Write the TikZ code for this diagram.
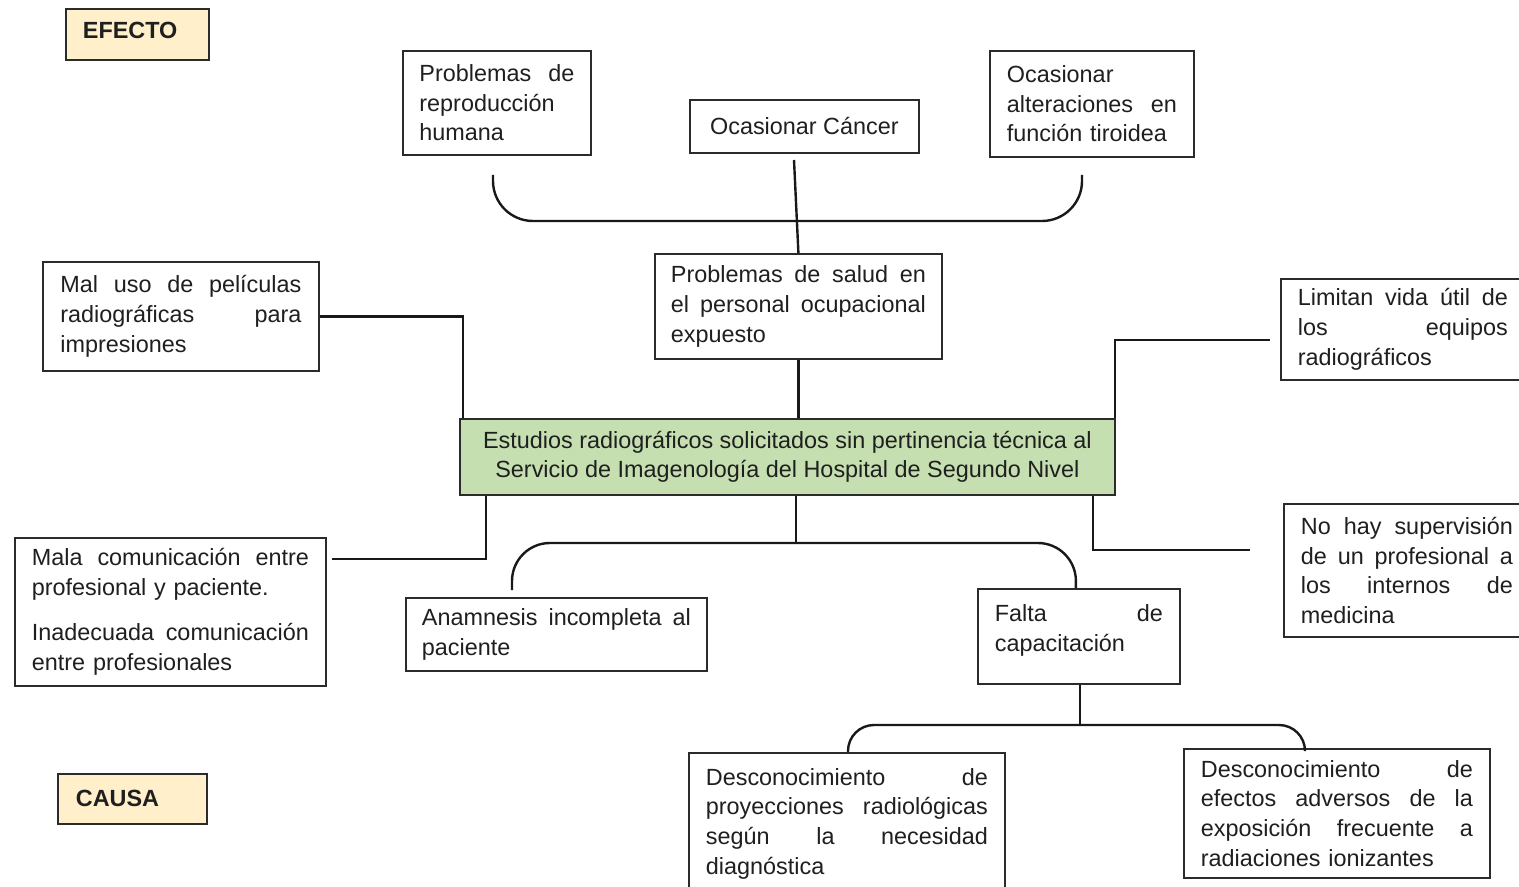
\documentclass[tikz,border=0pt]{standalone}
\usepackage{fontspec}
\setmainfont{Liberation Sans}
\usetikzlibrary{calc}
\newcommand\jl[1]{{\spaceskip=0.278em plus 1fill\relax #1\\}}
\definecolor{efc}{HTML}{FFEFCB}
\definecolor{grn}{HTML}{C5DFB1}
\definecolor{bd}{HTML}{2B2B2B}
\begin{document}
\begin{tikzpicture}[x=0.5pt,y=-0.5pt,
  box/.style={draw=bd, line width=0.9pt, fill=white, anchor=north west, inner sep=0pt,
    text=black!88, font=\fontsize{11.7}{14.8}\selectfont, align=left},
  tag/.style={box, fill=efc, font=\bfseries\fontsize{11.7}{14.8}\selectfont},
  conn/.style={draw=black!90, line width=1.2pt}]

\useasboundingbox (0,0) rectangle (1519,887);

% labels
\node[tag, minimum width=71.5pt, minimum height=25.5pt, text width=54.5pt] (efecto) at (65,8) {EFECTO\\[-11pt]\mbox{}};
\node[tag, minimum width=74.5pt, minimum height=25pt, text width=56.5pt] (causa) at (57,773) {CAUSA};

% effects
\node[box, minimum width=94pt, minimum height=52pt, text width=77.5pt] (prh) at (402,50)
  {\jl{Problemas de}reproducción\\humana};
\node[box, minimum width=114.5pt, minimum height=26.5pt] (cancer) at (689,99) {Ocasionar Cáncer};
\node[box, minimum width=102pt, minimum height=53pt, text width=85pt] (tiro) at (989,50)
  {Ocasionar\\\jl{alteraciones en}función tiroidea};
\node[box, minimum width=143.5pt, minimum height=52.5pt, text width=127.5pt] (salud) at (654,253)
  {\jl{Problemas de salud en}\jl{el personal ocupacional}expuesto};

% central problem
\node[box, fill=grn, minimum width=327.5pt, minimum height=38pt, align=center] (central) at (459,418)
  {Estudios radiográficos solicitados sin pertinencia técnica al\\Servicio de Imagenología del Hospital de Segundo Nivel};

% side boxes
\node[box, minimum width=138pt, minimum height=54.5pt, text width=120.5pt] (maluso) at (42,261)
  {\jl{Mal uso de películas}\jl{radiográficas para}impresiones};
\node[box, minimum width=122pt, minimum height=50.5pt, text width=105pt] (limitan) at (1280,278)
  {\jl{Limitan vida útil de}\jl{los equipos}radiográficos};
\node[box, minimum width=123pt, minimum height=66.5pt, text width=106pt] (nohay) at (1283,503)
  {\jl{No hay supervisión}\jl{de un profesional a}\jl{los internos de}medicina};
\node[box, minimum width=155.5pt, minimum height=74pt, text width=138.5pt] (mala) at (14,537)
  {\jl{Mala comunicación entre}profesional y paciente.\\[8pt]\jl{Inadecuada comunicación}entre profesionales};

% causes
\node[box, minimum width=150.5pt, minimum height=36.5pt, text width=134.5pt] (anam) at (405,597)
  {\jl{Anamnesis incompleta al}paciente};
\node[box, minimum width=101pt, minimum height=47.5pt, text width=84pt] (falta) at (977,588)
  {\jl{Falta de}capacitación\\[-6.5pt]\mbox{}};
\node[box, minimum width=158pt, inner ysep=7.7pt, text width=141pt] (descL) at (688,752)
  {\jl{Desconocimiento de}\jl{proyecciones radiológicas}\jl{según la necesidad}diagnóstica};
\node[box, minimum width=153pt, minimum height=64.5pt, text width=136pt] (descR) at (1183,748)
  {\jl{Desconocimiento de}\jl{efectos adversos de la}\jl{exposición frecuente a}radiaciones ionizantes};

% coordinates for free ends
\coordinate (t1) at (493,175);
\coordinate (t2) at (1082,175);
\coordinate (tm) at (794,221);
\coordinate (c1) at (794,160);
\coordinate (l1) at (1270,340);
\coordinate (n1) at (1250,550);
\coordinate (m1) at (332,559);
\coordinate (bL) at (512,590);
\coordinate (bm) at (796,543);
\coordinate (dL) at (848,752);
\coordinate (dR) at (1305,748);
\coordinate (dm) at (1080,725);

% top brace and stems
\draw[conn, rounded corners=20pt] (t1) |- (tm) -| (t2);
\draw[conn] (c1) -- (salud.north);
\draw[conn] (salud.south) -- (salud.south |- central.north);

% side connectors
\draw[conn] (maluso.east) -| ([xshift=2pt]central.north west);
\draw[conn] (l1) -| ([xshift=-0.5pt]central.north east);
\draw[conn] (n1) -| ([xshift=-11.5pt]central.south east);
\draw[conn] (m1) -| ([xshift=13.5pt]central.south west);

% lower brace
\draw[conn] (bm |- central.south) -- (bm);
\draw[conn, rounded corners=19pt] (bL) |- (bm) -| ([xshift=-1.5pt]falta.north);

% bottom brace
\draw[conn] (dm |- falta.south) -- (dm);
\draw[conn, rounded corners=13pt] (dL) |- (dm) -| (dR);
\end{tikzpicture}
\end{document}
